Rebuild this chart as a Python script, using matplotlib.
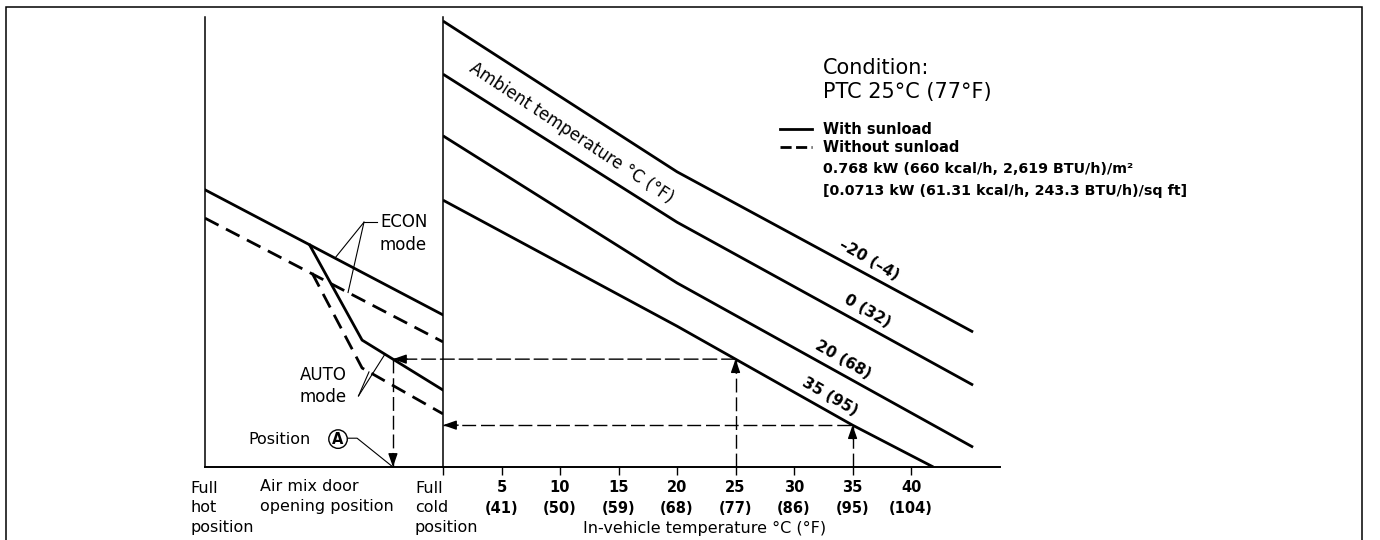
import numpy as np
import matplotlib
matplotlib.use("Agg")
import matplotlib.pyplot as plt
from matplotlib.lines import Line2D
from matplotlib.patches import ConnectionPatch, Rectangle

# ===================================================================================
# data
# ===================================================================================

# in-vehicle temperature axis, deg C with the deg F equivalents
tick_c = [5, 10, 15, 20, 25, 30, 35, 40]
tick_f = [41, 50, 59, 68, 77, 86, 95, 104]

# ambient temperature curves (x: in-vehicle temp deg C, y: door demand, 0-100)
ambient_labels = ["\u201320 (\u20134)", "0 (32)", "20 (68)", "35 (95)"]
amb_m20_x = [0, 20, 45.3]
amb_m20_y = [99.1, 65.6, 30.0]
amb_0_x = [0, 20, 45.3]
amb_0_y = [87.3, 54.4, 18.2]
amb_20_x = [0, 20, 45.3]
amb_20_y = [73.6, 40.9, 4.4]
amb_35_x = [0, 20, 35, 41.9]
amb_35_y = [59.3, 31.3, 9.3, 0.0]

# air mix door opening (x: 0 = full hot, 100 = full cold)
econ_sun_x = [0, 100]
econ_sun_y = [61.6, 33.8]
econ_nosun_x = [0, 100]
econ_nosun_y = [55.3, 27.8]
auto_sun_x = [44, 66, 100]
auto_sun_y = [49.3, 28.2, 17.1]
auto_nosun_x = [45, 66, 100]
auto_nosun_y = [43.1, 22.0, 11.8]

# worked examples on the 35 (95) curve
example_sun_c = 25
example_nosun_c = 35

# ===================================================================================
# layout
# ===================================================================================

W, H = 1380, 540
plt.rcParams.update({'font.family': ['DejaVu Sans']})
fig = plt.figure(figsize=(W / 100, H / 100), dpi=100)


def fx(x):
    return x / W


def fy(y):
    return 1 - y / H


def box(x0, x1, ytop, ybot):
    return [fx(x0), fy(ybot), (x1 - x0) / W, (ybot - ytop) / H]


ax_door = fig.add_axes(box(205, 443, 17, 467))
ax_temp = fig.add_axes(box(443, 1000, 17, 467))

for ax in (ax_door, ax_temp):
    ax.set_ylim(0, 100)
    ax.set_yticks([])
    ax.spines['top'].set_visible(False)
    ax.spines['right'].set_visible(False)
    ax.spines['left'].set_linewidth(1.1)
    ax.spines['bottom'].set_linewidth(1.4)
    ax.patch.set_alpha(0)

ax_door.set_xlim(0, 100)
ax_door.set_xticks([])
ax_temp.set_xlim(0, 47.6)
ax_temp.set_xticks([0] + tick_c)
ax_temp.set_xticklabels([""] + ["%d\n(%d)" % (c, f) for c, f in zip(tick_c, tick_f)],
                        fontsize=10.5, fontweight='bold', linespacing=1.5)
ax_temp.tick_params(axis='x', direction='out', length=6, width=1, pad=3.5)

LW = 2.0
DASH = (5.5, 3)

# ===================================================================================
# curves
# ===================================================================================

amb_curves = [(amb_m20_x, amb_m20_y), (amb_0_x, amb_0_y),
              (amb_20_x, amb_20_y), (amb_35_x, amb_35_y)]
label_x = [36.4, 36.3, 34.2, 33.1]
for (xs, ys), lab, lx in zip(amb_curves, ambient_labels, label_x):
    ax_temp.plot(xs, ys, color='k', lw=LW, solid_capstyle='butt')
    ax_temp.text(lx, np.interp(lx, xs, ys) + 3.5, lab, rotation=-30,
                 rotation_mode='anchor', ha='center', va='center',
                 fontsize=11, fontweight='bold')

ax_temp.text(11.0, 74.2, "Ambient temperature \u00b0C (\u00b0F)", rotation=-33.5,
             rotation_mode='anchor', ha='center', va='center', fontsize=12)

ax_door.plot(econ_sun_x, econ_sun_y, color='k', lw=LW)
ax_door.plot(econ_nosun_x, econ_nosun_y, color='k', lw=LW, dashes=DASH)
ax_door.plot(auto_sun_x, auto_sun_y, color='k', lw=LW)
ax_door.plot(auto_nosun_x, auto_nosun_y, color='k', lw=LW, dashes=DASH)

# ===================================================================================
# worked examples (dashed guide arrows)
# ===================================================================================

GUIDE = dict(color='k', lw=1.0, dashes=(10, 3.5))
HEAD = dict(arrowstyle="-|>,head_length=0.8,head_width=0.28", color='k',
            lw=1.0, shrinkA=0, shrinkB=0)

y_sun = np.interp(example_sun_c, amb_35_x, amb_35_y)
y_nosun = np.interp(example_nosun_c, amb_35_x, amb_35_y)
pos_a = np.interp(y_sun, auto_sun_y[::-1], auto_sun_x[::-1])

# with sunload: 25 C -> AUTO line -> position A
ax_temp.plot([example_sun_c, example_sun_c], [0, y_sun], **GUIDE)
ax_temp.annotate("", xy=(example_sun_c, y_sun), xytext=(example_sun_c, y_sun - 3),
                 arrowprops=HEAD)
con = ConnectionPatch(xyA=(example_sun_c, y_sun), coordsA=ax_temp.transData,
                      xyB=(pos_a, y_sun), coordsB=ax_door.transData,
                      arrowstyle='-', linestyle=(0, (10, 3.5)), lw=1.0, color='k')
fig.add_artist(con)
ax_door.annotate("", xy=(pos_a, y_sun), xytext=(pos_a + 6, y_sun), arrowprops=HEAD)
ax_door.plot([pos_a, pos_a], [y_sun, 0], **GUIDE)
ax_door.annotate("", xy=(pos_a, 0), xytext=(pos_a, 3), arrowprops=HEAD)

# without sunload: 35 C -> full cold
ax_temp.plot([example_nosun_c, example_nosun_c], [0, y_nosun], **GUIDE)
ax_temp.annotate("", xy=(example_nosun_c, y_nosun),
                 xytext=(example_nosun_c, y_nosun - 3), arrowprops=HEAD)
ax_temp.plot([0, example_nosun_c], [y_nosun, y_nosun], **GUIDE)
ax_temp.annotate("", xy=(0, y_nosun), xytext=(1.3, y_nosun), arrowprops=HEAD)

# ===================================================================================
# mode callouts
# ===================================================================================

LEAD = dict(color='k', lw=0.8, clip_on=False)

elbow = (66.8, 54.4)
for xs, ys, tx in [(econ_sun_x, econ_sun_y, 54.6), (econ_nosun_x, econ_nosun_y, 60.1)]:
    ax_door.plot([elbow[0], tx], [elbow[1], np.interp(tx, xs, ys)], **LEAD)
ax_door.plot([elbow[0], 72.3], [elbow[1], elbow[1]], **LEAD)
ax_door.text(73.5, 51.9, "ECON\nmode", ha='left', va='center', fontsize=12,
             linespacing=1.35)

start = (64.5, 15.8)
for xs, ys, tx in [(auto_sun_x, auto_sun_y, 75.6), (auto_nosun_x, auto_nosun_y, 68.9)]:
    ax_door.plot([start[0], tx], [start[1], np.interp(tx, xs, ys)], **LEAD)
ax_door.text(49.6, 18.0, "AUTO\nmode", ha='center', va='center', fontsize=12,
             linespacing=1.3)

ax_door.text(18.1, 6.2, "Position", ha='left', va='center', fontsize=11.5)
ax_door.text(55.9, 6.2, "A", ha='center', va='center', fontsize=10.5,
             fontweight='bold',
             bbox=dict(boxstyle='circle,pad=0.12', fc='white', ec='k', lw=1.0))
ax_door.plot([60.3, 63.9, pos_a], [6.4, 6.4, 0], **LEAD)

# ===================================================================================
# axis captions
# ===================================================================================

fig.text(fx(190), fy(508), "Full\nhot\nposition", ha='left', va='center',
         fontsize=11.5, linespacing=1.38)
fig.text(fx(260), fy(496.5), "Air mix door\nopening position", ha='left',
         va='center', fontsize=11.5, linespacing=1.38)
fig.text(fx(415), fy(508), "Full\ncold\nposition", ha='left', va='center',
         fontsize=11.5, linespacing=1.38)
fig.text(fx(583), fy(528), "In-vehicle temperature \u00b0C (\u00b0F)", ha='left',
         va='center', fontsize=11.5)

# ===================================================================================
# condition block and legend
# ===================================================================================

fig.text(fx(823), fy(68), "Condition:", ha='left', va='center', fontsize=15)
fig.text(fx(823), fy(92), "PTC 25\u00b0C (77\u00b0F)", ha='left', va='center', fontsize=15)

handles = [Line2D([], [], color='k', lw=LW),
           Line2D([], [], color='k', lw=LW, dashes=(4, 1.6))]
fig.legend(handles, ["With sunload", "Without sunload"], loc='upper left',
           bbox_to_anchor=(fx(780), fy(122)), frameon=False, borderpad=0,
           borderaxespad=0, handlelength=2.2, handletextpad=0.75,
           labelspacing=0.2, prop=dict(weight='bold', size=10.5))

fig.text(fx(823), fy(169), "0.768 kW (660 kcal/h, 2,619 BTU/h)/m\u00b2",
         ha='left', va='center', fontsize=10.3, fontweight='bold')
fig.text(fx(823), fy(191), "[0.0713 kW (61.31 kcal/h, 243.3 BTU/h)/sq ft]",
         ha='left', va='center', fontsize=10.3, fontweight='bold')

# page frame
fig.add_artist(Rectangle((fx(6), -0.05), fx(1362) - fx(6), fy(7) + 0.05,
                         transform=fig.transFigure, fill=False, ec='k', lw=1.1))

fig.savefig("out.png", dpi=100)
